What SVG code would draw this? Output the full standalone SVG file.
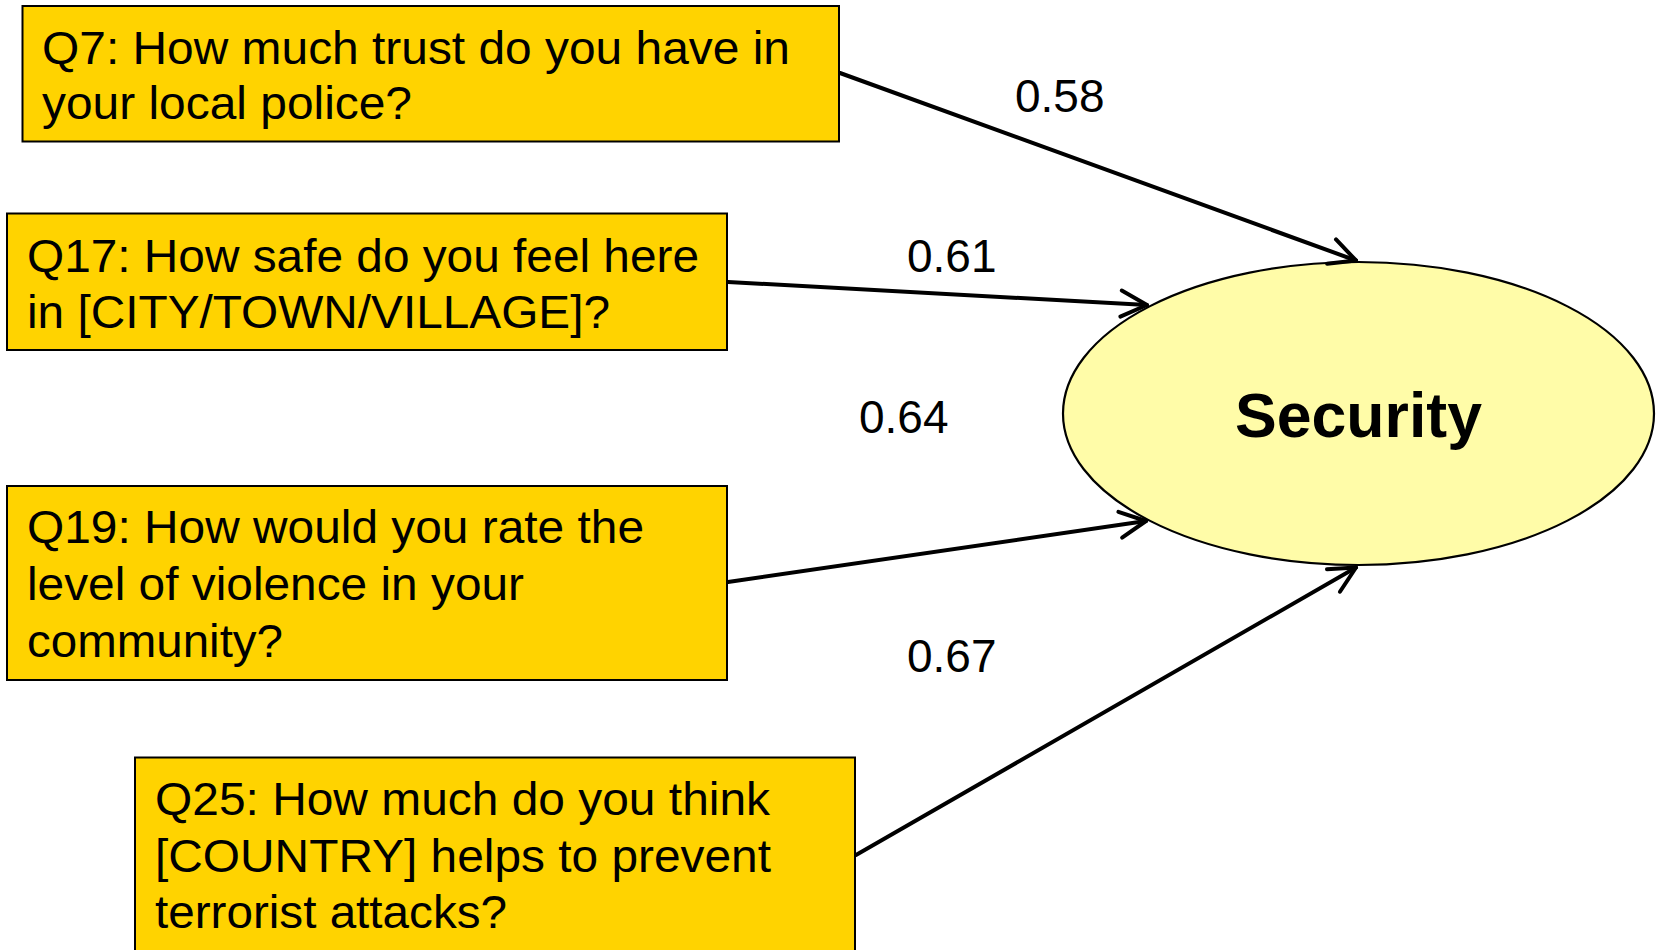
<svg xmlns="http://www.w3.org/2000/svg" width="1657" height="950" viewBox="0 0 1657 950">
  <style>
    .box { fill: #FFD300; stroke: #000000; stroke-width: 2; }
    .q { font-family: "Liberation Sans", Arial, sans-serif; font-size: 46px; fill: #000000; }
    .lbl { font-family: "Liberation Sans", Arial, sans-serif; font-size: 46px; fill: #000000; }
    .edge { fill: none; stroke: #000000; stroke-width: 4; stroke-linecap: round; }
    .lat { fill: #FFFCA8; stroke: #000000; stroke-width: 2.2; }
    .latt { font-family: "Liberation Sans", Arial, sans-serif; font-size: 63px; font-weight: bold; fill: #000000; }
  </style>
  <defs>
    <marker id="arrow" markerUnits="userSpaceOnUse" viewBox="-32 -18 36 36" refX="0" refY="0" markerWidth="36" markerHeight="36" orient="auto">
      <path d="M -26 -13 L 0 0 L -26 13" fill="none" stroke="#000000" stroke-width="4" stroke-linecap="round" stroke-linejoin="round"/>
    </marker>
  </defs>
  <rect width="1657" height="950" fill="#FFFFFF"/>

  <g id="security">
    <ellipse class="lat" cx="1358.5" cy="413.5" rx="295.5" ry="151.5"/>
    <text class="latt" x="1358.5" y="436.5" text-anchor="middle" textLength="247" lengthAdjust="spacingAndGlyphs">Security</text>
  </g>

  <g id="q7">
    <rect class="box" x="22.5" y="6" width="816.5" height="135.5"/>
    <text class="q" x="42" y="64" textLength="748" lengthAdjust="spacingAndGlyphs">Q7: How much trust do you have in</text>
    <text class="q" x="42" y="118.5" textLength="370" lengthAdjust="spacingAndGlyphs">your local police?</text>
  </g>

  <g id="q17">
    <rect class="box" x="7" y="213.5" width="720" height="136.5"/>
    <text class="q" x="27" y="271.5" textLength="672" lengthAdjust="spacingAndGlyphs">Q17: How safe do you feel here</text>
    <text class="q" x="27" y="328" textLength="583" lengthAdjust="spacingAndGlyphs">in [CITY/TOWN/VILLAGE]?</text>
  </g>

  <g id="q19">
    <rect class="box" x="7" y="486" width="720" height="194"/>
    <text class="q" x="27" y="543" textLength="617" lengthAdjust="spacingAndGlyphs">Q19: How would you rate the</text>
    <text class="q" x="27" y="599.5" textLength="497" lengthAdjust="spacingAndGlyphs">level of violence in your</text>
    <text class="q" x="27" y="656.5" textLength="256" lengthAdjust="spacingAndGlyphs">community?</text>
  </g>

  <g id="q25">
    <rect class="box" x="135" y="757.5" width="720" height="195"/>
    <text class="q" x="155" y="815" textLength="615" lengthAdjust="spacingAndGlyphs">Q25: How much do you think</text>
    <text class="q" x="155" y="871.5" textLength="616" lengthAdjust="spacingAndGlyphs">[COUNTRY] helps to prevent</text>
    <text class="q" x="155" y="928" textLength="352" lengthAdjust="spacingAndGlyphs">terrorist attacks?</text>
  </g>

  <g id="connectors">
    <line class="edge" x1="840" y1="73" x2="1356" y2="260.5" marker-end="url(#arrow)"/>
    <line class="edge" x1="728" y1="282" x2="1147" y2="305" marker-end="url(#arrow)"/>
    <line class="edge" x1="728" y1="582" x2="1146" y2="521" marker-end="url(#arrow)"/>
    <line class="edge" x1="856" y1="855" x2="1356" y2="567.5" marker-end="url(#arrow)"/>
    <text class="lbl" x="1015" y="111.5">0.58</text>
    <text class="lbl" x="907" y="271.5">0.61</text>
    <text class="lbl" x="859" y="433">0.64</text>
    <text class="lbl" x="907" y="672">0.67</text>
  </g>
</svg>
